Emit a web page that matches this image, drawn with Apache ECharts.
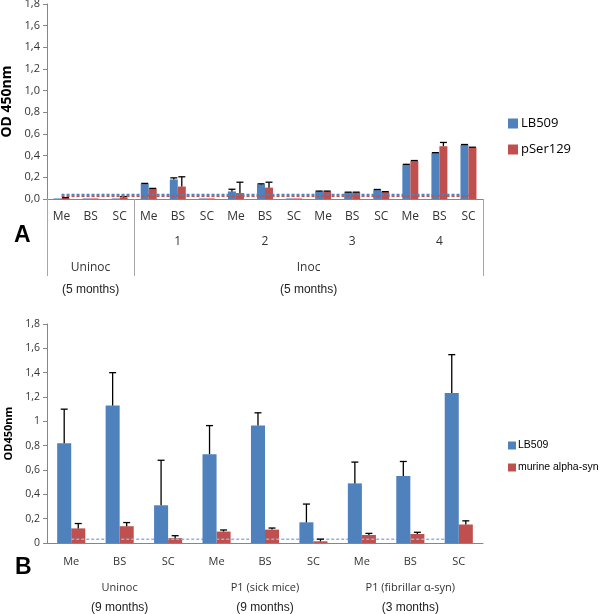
<!DOCTYPE html>
<html>
<head>
<meta charset="utf-8">
<script src="https://cdn.jsdelivr.net/npm/echarts@6/dist/echarts.min.js"></script>
<style>
    html, body { margin: 0; padding: 0; background: #fff; }
    #chart { width: 600px; height: 614px; }
</style>
</head>
<body>
<div id="chart"></div>
<script>
// ---- panel A data
var categoriesA = ["Me", "BS", "SC", "Me", "BS", "SC", "Me", "BS", "SC", "Me", "BS", "SC", "Me", "BS", "SC"];
var groupsA = ["", "1", "2", "3", "4"];
var treatmentsA = ["Uninoc", "Inoc"];
var treatmentSizesA = [3, 12];
var monthsA = ["(5 months)", "(5 months)"];
var lb509A = [0.005, 0.005, 0.005, 0.14, 0.18, 0.005, 0.07, 0.135, 0.005, 0.07, 0.06, 0.085, 0.317, 0.425, 0.50];
var lb509ErrA = [0, 0, 0, 0.004, 0.015, 0, 0.02, 0.005, 0, 0.003, 0.003, 0.003, 0.003, 0.003, 0.003];
var pSer129A = [0.01, 0.005, 0.015, 0.095, 0.115, 0.005, 0.055, 0.105, 0.005, 0.07, 0.06, 0.065, 0.35, 0.487, 0.475];
var pSer129ErrA = [0.003, 0, 0.008, 0.003, 0.09, 0, 0.1, 0.05, 0, 0.003, 0.003, 0.003, 0.005, 0.035, 0.003];
var cutoffLb509A = 0.04;
var cutoffPSer129A = 0.025;
var yTicksA = [0, 0.2, 0.4, 0.6, 0.8, 1.0, 1.2, 1.4, 1.6, 1.8];

// ---- panel B data
var categoriesB = ["Me", "BS", "SC", "Me", "BS", "SC", "Me", "BS", "SC"];
var groupsB = ["Uninoc", "P1 (sick mice)", "P1 (fibrillar \u03b1-syn)"];
var monthsB = ["(9 months)", "(9 months)", "(3 months)"];
var lb509B = [0.82, 1.13, 0.31, 0.73, 0.965, 0.17, 0.49, 0.55, 1.233];
var lb509ErrB = [0.28, 0.27, 0.37, 0.235, 0.105, 0.15, 0.175, 0.12, 0.315];
var murineB = [0.12, 0.138, 0.04, 0.094, 0.11, 0.014, 0.066, 0.074, 0.152];
var murineErrB = [0.04, 0.03, 0.02, 0.013, 0.013, 0.018, 0.013, 0.014, 0.03];
var cutoffB = 0.03;
var yTicksB = [0, 0.2, 0.4, 0.6, 0.8, 1, 1.2, 1.4, 1.6, 1.8];

var BLUE = "#4F81BD";
var RED = "#C0504D";
var SEP = "#a6a6a6";
var AXIS = "#868686";
var FONT = "'Open Sans', 'DejaVu Sans', sans-serif";
var ARIAL = "'Liberation Sans', Arial, sans-serif";

// centres and edges of the uneven Uninoc / Inoc spans (in category units)
var edgesA = [0];
var centresA = [];
treatmentSizesA.forEach(function(n) {
    var start = edgesA[edgesA.length - 1];
    centresA.push(start + n / 2);
    edgesA.push(start + n);
});

function commaLabel(v) {
    return String(Math.round(v * 10) / 10).replace(".", ",");
}

// upward error bar with a cap, placed over the left (-1) or right (+1) bar
function errorBar(side, ratio) {
    return function(params, api) {
        var i = api.value(0);
        var err = api.value(2);
        if (!err) return null;
        var base = api.coord([i, api.value(1)]);
        var top = api.coord([i, api.value(1) + err]);
        var bw = api.size([1, 0])[0] * ratio;
        var x = base[0] + side * bw / 2;
        var style = { stroke: "#000", lineWidth: 1.3 };
        return {
            type: "group",
            children: [
                { type: "line", shape: { x1: x, y1: base[1], x2: x, y2: top[1] }, style: style },
                { type: "line", shape: { x1: x - 3.5, y1: top[1], x2: x + 3.5, y2: top[1] }, style: style }
            ]
        };
    };
}

function errData(vals, errs) {
    return vals.map(function(v, i) {
        return [i, v, errs[i]];
    });
}

var ratioA = 0.275;
var ratioB = 0.29;

var myChart = echarts.init(document.getElementById("chart"));
var option = {
    animation: false,
    textStyle: { fontFamily: FONT },
    title: [
        { text: "A", left: 9, top: 219, textStyle: { fontFamily: ARIAL, fontSize: 23, fontWeight: "bold", color: "#000" } },
        { text: "B", left: 10, top: 551, textStyle: { fontFamily: ARIAL, fontSize: 23, fontWeight: "bold", color: "#000" } }
    ],
    legend: [
        {
            data: ["LB509", "pSer129"],
            orient: "vertical",
            left: 503,
            top: 112,
            icon: "rect",
            itemWidth: 10,
            itemHeight: 10,
            itemGap: 13,
            textStyle: { fontSize: 13, color: "#000", padding: [0, 0, 0, -2] }
        },
        {
            data: ["LB509", "murine alpha-syn"],
            orient: "vertical",
            left: 503,
            top: 435,
            icon: "rect",
            itemWidth: 8,
            itemHeight: 8,
            itemGap: 11,
            textStyle: { fontFamily: ARIAL, fontSize: 10.5, color: "#000", padding: [0, 0, 0, -3] }
        }
    ],
    grid: [
        { left: 47, top: 4, width: 436, height: 195, outerBoundsMode: "none" },
        { left: 47, top: 324, width: 436, height: 219, outerBoundsMode: "none" }
    ],
    xAxis: [
        // A row 1
        {
            gridIndex: 0, type: "category", data: categoriesA, position: "bottom",
            axisLine: { lineStyle: { color: AXIS } },
            axisTick: { length: 24, lineStyle: { color: SEP } },
            axisLabel: { margin: 18, verticalAlign: "middle", fontSize: 12, color: "#333", interval: 0 }
        },
        // A row 2
        {
            gridIndex: 0, type: "category", data: groupsA, position: "bottom",
            axisLine: { show: false },
            axisTick: { length: 51, lineStyle: { color: SEP } },
            axisLabel: { margin: 43, verticalAlign: "middle", fontSize: 12, color: "#333", interval: 0 }
        },
        // A row 3
        {
            gridIndex: 0, type: "value", min: 0, max: edgesA[edgesA.length - 1], position: "bottom",
            axisLine: { show: false },
            splitLine: { show: false },
            axisTick: { length: 77, customValues: edgesA, lineStyle: { color: SEP } },
            axisLabel: {
                margin: 69, verticalAlign: "middle", fontSize: 12, color: "#333",
                customValues: centresA,
                formatter: function(v) { return treatmentsA[centresA.indexOf(v)] || ""; }
            }
        },
        // A row 4
        {
            gridIndex: 0, type: "value", min: 0, max: edgesA[edgesA.length - 1], position: "bottom",
            axisLine: { show: false },
            splitLine: { show: false },
            axisTick: { show: false },
            axisLabel: {
                margin: 91, verticalAlign: "middle", fontSize: 12, color: "#222",
                fontFamily: ARIAL,
                customValues: centresA,
                formatter: function(v) { return monthsA[centresA.indexOf(v)] || ""; }
            }
        },
        // B row 1
        {
            gridIndex: 1, type: "category", data: categoriesB, position: "bottom",
            axisLine: { lineStyle: { color: AXIS } },
            axisTick: { length: 25, lineStyle: { color: SEP } },
            axisLabel: { margin: 19, verticalAlign: "middle", fontSize: 11, color: "#333", interval: 0 }
        },
        // B row 2
        {
            gridIndex: 1, type: "category", data: groupsB, position: "bottom",
            axisLine: { show: false },
            axisTick: { length: 52, lineStyle: { color: SEP } },
            axisLabel: { margin: 45, verticalAlign: "middle", fontSize: 11, color: "#333", interval: 0 }
        },
        // B row 3
        {
            gridIndex: 1, type: "category", data: monthsB, position: "bottom",
            axisLine: { show: false },
            axisTick: { show: false },
            axisLabel: {
                margin: 65, verticalAlign: "middle", fontSize: 12, color: "#222", interval: 0,
                fontFamily: ARIAL
            }
        }
    ],
    yAxis: [
        {
            gridIndex: 0, type: "value", min: 0, max: 1.8, interval: 0.2,
            name: "OD 450nm", nameLocation: "middle", nameGap: 33,
            nameTextStyle: { fontSize: 14, fontWeight: "bold", color: "#000" },
            axisLine: { show: true, onZero: false, lineStyle: { color: AXIS } },
            axisTick: { show: true, length: 4, lineStyle: { color: AXIS } },
            splitLine: { show: false },
            axisLabel: {
                margin: 7, fontSize: 11, color: "#333",
                customValues: yTicksA,
                formatter: function(v) { return v.toFixed(1).replace(".", ","); }
            }
        },
        {
            gridIndex: 1, type: "value", min: 0, max: 1.8, interval: 0.2,
            name: "OD450nm", nameLocation: "middle", nameGap: 33,
            nameTextStyle: { fontSize: 11, fontWeight: "bold", color: "#000" },
            axisLine: { show: true, onZero: false, lineStyle: { color: AXIS } },
            axisTick: { show: true, length: 4, lineStyle: { color: AXIS } },
            splitLine: { show: false },
            axisLabel: {
                margin: 7, fontSize: 10.5, color: "#333",
                customValues: yTicksB,
                formatter: commaLabel
            }
        }
    ],
    series: [
        // panel A
        { name: "LB509", type: "bar", xAxisIndex: 0, yAxisIndex: 0, data: lb509A, barWidth: ratioA * 100 + "%", barGap: "0%", itemStyle: { color: BLUE }, z: 2 },
        { name: "pSer129", type: "bar", xAxisIndex: 0, yAxisIndex: 0, data: pSer129A, barWidth: ratioA * 100 + "%", barGap: "0%", itemStyle: { color: RED }, z: 2 },
        { type: "custom", xAxisIndex: 0, yAxisIndex: 0, renderItem: errorBar(-1, ratioA), data: errData(lb509A, lb509ErrA), z: 3 },
        { type: "custom", xAxisIndex: 0, yAxisIndex: 0, renderItem: errorBar(1, ratioA), data: errData(pSer129A, pSer129ErrA), z: 3 },
        {
            type: "line", xAxisIndex: 0, yAxisIndex: 0, symbol: "none", z: 4,
            data: categoriesA.map(function() { return cutoffLb509A; }),
            lineStyle: { color: BLUE, width: 2, type: [3, 2] }
        },
        {
            type: "line", xAxisIndex: 0, yAxisIndex: 0, symbol: "none", z: 4,
            data: categoriesA.map(function() { return cutoffPSer129A; }),
            lineStyle: { color: RED, width: 1.5, type: [3, 2] }
        },
        // panel B
        { name: "LB509", type: "bar", xAxisIndex: 4, yAxisIndex: 1, data: lb509B, barWidth: ratioB * 100 + "%", barGap: "0%", itemStyle: { color: BLUE }, z: 3 },
        { name: "murine alpha-syn", type: "bar", xAxisIndex: 4, yAxisIndex: 1, data: murineB, barWidth: ratioB * 100 + "%", barGap: "0%", itemStyle: { color: RED }, z: 1 },
        { type: "custom", xAxisIndex: 4, yAxisIndex: 1, renderItem: errorBar(-1, ratioB), data: errData(lb509B, lb509ErrB), z: 4 },
        { type: "custom", xAxisIndex: 4, yAxisIndex: 1, renderItem: errorBar(1, ratioB), data: errData(murineB, murineErrB), z: 4 },
        {
            type: "line", xAxisIndex: 4, yAxisIndex: 1, symbol: "none", z: 2,
            data: categoriesB.map(function() { return cutoffB; }),
            lineStyle: { color: "#8EB4E3", width: 1.5, type: [3, 2] }
        }
    ]
};
myChart.setOption(option);
</script>
</body>
</html>
